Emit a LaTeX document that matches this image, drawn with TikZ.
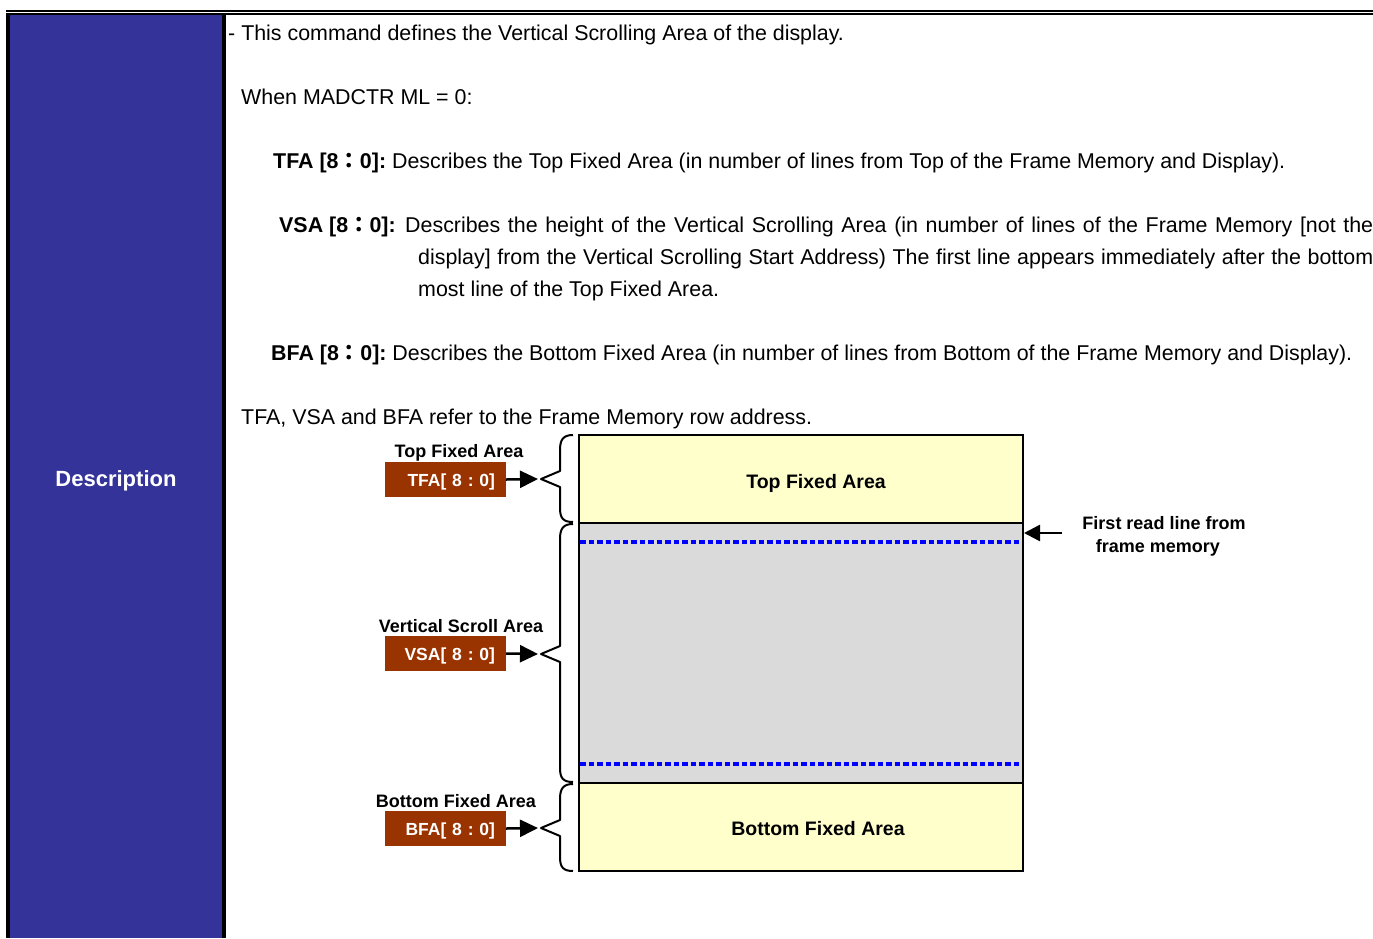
\documentclass[tikz,border=0pt]{standalone}
\usepackage{fontspec}
\setmainfont{Liberation Sans}
\newfontfamily\cjk{Noto Sans CJK JP}
\usetikzlibrary{arrows.meta}
\definecolor{hdrblue}{HTML}{333399}
\definecolor{brn}{HTML}{993300}
\definecolor{yel}{HTML}{FFFFCC}
\definecolor{gry}{HTML}{DADADA}
\newcommand{\fc}{{\cjk ：}}
\frenchspacing
\tikzset{
  txt/.style={anchor=base west, inner sep=0pt, font=\fontsize{21.4}{25}\selectfont},
  lbl/.style={anchor=base, inner sep=0pt, font=\bfseries\fontsize{18}{21}\selectfont},
  regbox/.style={fill=brn, text=white, minimum width=121, minimum height=35, inner xsep=11pt,
    text width=99, align=right, text height=13pt, text depth=0pt, font=\bfseries\fontsize{17.5}{21}\selectfont},
  arr/.style={line width=2.5pt, -{Triangle[length=18pt,width=17pt]}},
  brace/.style={line width=2pt, line join=round},
  area/.style={line width=2pt},
  bl/.style={blue, line width=3.2pt, dash pattern=on 5.5pt off 3pt},
}
\begin{document}
\begin{tikzpicture}[x=1pt,y=-1pt]
\useasboundingbox (0,0) rectangle (1373,938);
% header lines and left column
\draw[line width=1.6pt] (6,10.8) -- (1373,10.8);
\draw[line width=2.3pt] (6,13.8) -- (1373,13.8);
\fill[hdrblue] (10,14.5) rectangle (222,938);
\fill[black] (6,12.6) rectangle (10,938);
\fill[black] (222,12.6) rectangle (226,938);
\node[anchor=base, inner sep=0pt, text=white, font=\bfseries\fontsize{22}{26}\selectfont] (desc) at (116,486) {Description};
% text
\node[txt] (l1) at (228,40.5) {- This command defines the Vertical Scrolling Area of the display.};
\node[txt] (l2) at (241,104.5) {When MADCTR ML = 0:};
\node[txt] (l3) at (273,168.5) {\textbf{TFA [8\fc0]:} Describes the Top Fixed Area (in number of lines from Top of the Frame Memory and Display).};
\node[txt] (l4a) at (279,232.5) {\textbf{VSA [8\fc0]:}};
\node[txt] (l4b) at (405,232.5) {\makebox[968pt][s]{Describes the height of the Vertical Scrolling Area (in number of lines of the Frame Memory [not the}};
\node[txt] (l5) at (418,264.5) {\makebox[955pt][s]{display] from the Vertical Scrolling Start Address) The first line appears immediately after the bottom}};
\node[txt] (l6) at (418,296.5) {most line of the Top Fixed Area.};
\node[txt] (l7) at (271,360.5) {\textbf{BFA [8\fc0]:} Describes the Bottom Fixed Area (in number of lines from Bottom of the Frame Memory and Display).};
\node[txt] (l8) at (241,424.5) {TFA, VSA and BFA refer to the Frame Memory row address.};
% areas
\fill[yel] (579,435) rectangle (1023,523);
\fill[gry] (579,523) rectangle (1023,783);
\fill[yel] (579,783) rectangle (1023,871);
\draw[bl] (580,542) -- (1022,542);
\draw[bl] (580,764) -- (1022,764);
\draw[area] (579,435) rectangle (1023,871);
\draw[area] (579,523) -- (1023,523);
\draw[area] (579,783) -- (1023,783);
\node[lbl, font=\bfseries\fontsize{19.5}{22}\selectfont] (tfatxt) at (816,488) {Top Fixed Area};
\node[lbl, font=\bfseries\fontsize{19.5}{22}\selectfont] (bfatxt) at (818,835) {Bottom Fixed Area};
% first read line
\coordinate (frs) at (1062,533);
\coordinate (fre) at (1024,533);
\draw[arr, -{Triangle[length=16pt,width=16pt]}] (frs) -- (fre);
\node[lbl] (fr1) at (1164,529.5) {First read line from};
\node[lbl] (fr2) at (1158,552.5) {frame memory};
% braces
\coordinate (t1) at (541,479);
\coordinate (t2) at (541,654);
\coordinate (t3) at (541,828);
\draw[brace] (573,435) .. controls (563,435) and (560,440) .. (560,450) -- (560,471) -- (t1) -- (560,487) -- (560,508) .. controls (560,518) and (563,522) .. (573,522);
\draw[brace] (573,524) .. controls (563,524) and (560,529) .. (560,539) -- (560,646) -- (t2) -- (560,662) -- (560,768) .. controls (560,778) and (563,782) .. (573,782);
\draw[brace] (573,784) .. controls (563,784) and (560,789) .. (560,799) -- (560,820) -- (t3) -- (560,836) -- (560,857) .. controls (560,867) and (563,871) .. (573,871);
% register labels
\node[lbl] (tfal) at (459,457.5) {Top Fixed Area};
\node[regbox] (tfab) at (445.5,479.5) {TFA[ 8 : 0]};
\node[lbl] (vsal) at (461,632.5) {Vertical Scroll Area};
\node[regbox] (vsab) at (445.5,653.5) {VSA[ 8 : 0]};
\node[lbl] (bfal) at (456,807.5) {Bottom Fixed Area};
\node[regbox] (bfab) at (445.5,828.5) {BFA[ 8 : 0]};
\coordinate (a1) at (538,479);
\coordinate (a2) at (538,654);
\coordinate (a3) at (538,828);
\draw[arr] (tfab.east) -- (a1);
\draw[arr] (vsab.east) -- (a2);
\draw[arr] (bfab.east) -- (a3);
\end{tikzpicture}
\end{document}
